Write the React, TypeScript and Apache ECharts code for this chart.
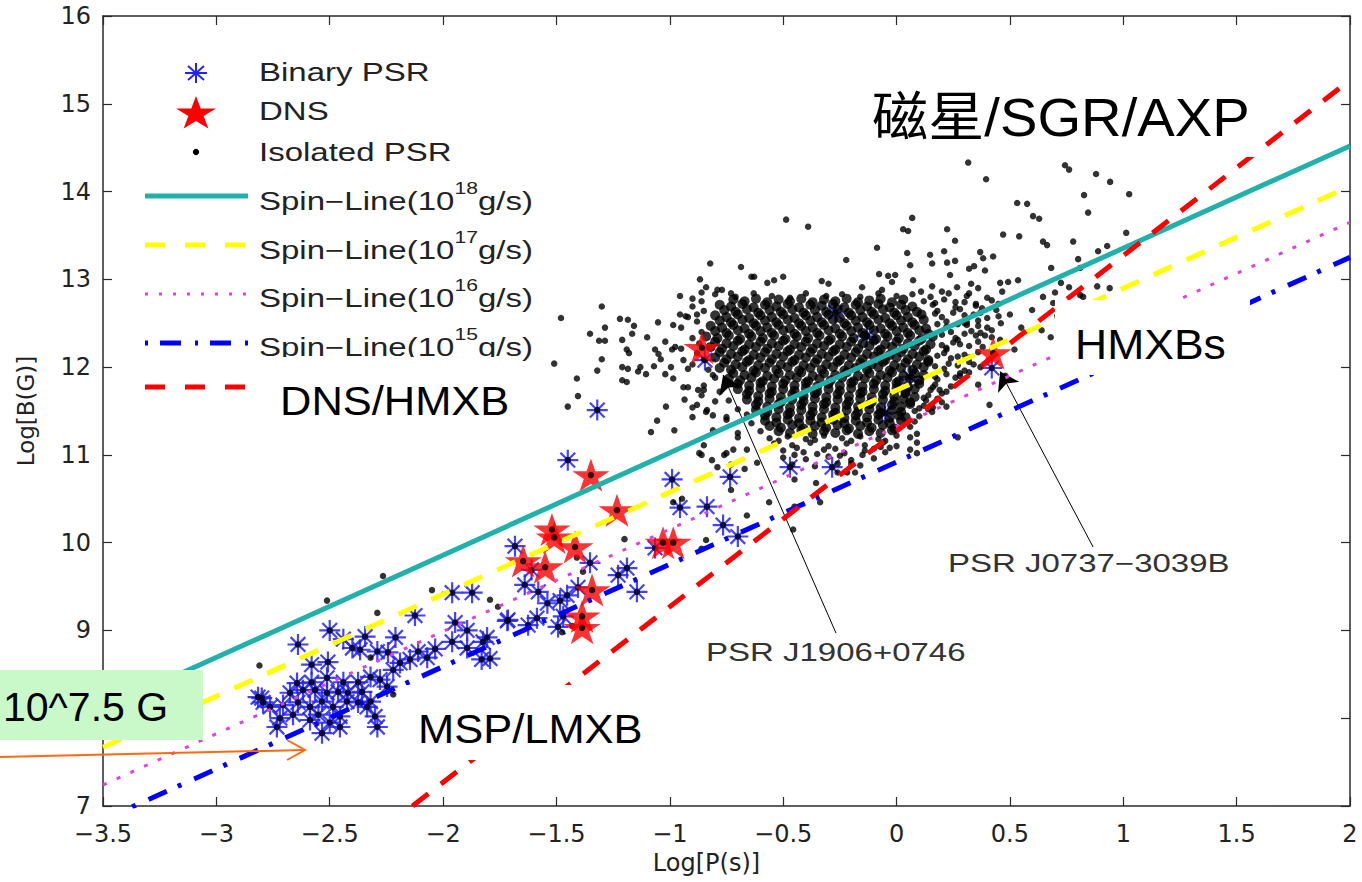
import React, { useEffect, useRef } from 'react';
import * as echarts from 'echarts';

// ---------- axes ----------
const X_MIN = -3.5;
const X_MAX = 2;
const X_STEP = 0.5;
const Y_MIN = 7;
const Y_MAX = 16;
const Y_STEP = 1;
// y tick hidden behind the green "10^7.5 G" note in the figure
const Y_HIDDEN_TICKS: number[] = [8];

// ---------- data: [log P(s), log B(G)] ----------
const binaryPSR: number[][] = [
  [-2.64, 8.84], [-2.5, 9.0], [-2.44, 8.9], [-2.4, 8.8], [-2.366, 8.78], [-2.344, 8.93], [-2.21, 8.92],
  [-2.124, 9.17], [-1.96, 9.43], [-1.872, 9.43], [-1.947, 9.09], [-1.894, 9.0], [-1.806, 8.92], [-1.717, 9.11],
  [-2.035, 8.79], [-2.11, 8.76], [-2.07, 8.69], [-1.83, 8.67], [-1.96, 8.87], [-1.894, 8.8], [-2.29, 8.76],
  [-2.243, 8.75], [-2.508, 8.64], [-2.58, 8.61], [-2.19, 8.63], [-2.146, 8.67], [-2.22, 8.55], [-2.644, 8.4],
  [-2.58, 8.41], [-2.512, 8.46], [-2.44, 8.41], [-2.375, 8.41], [-2.32, 8.47], [-2.278, 8.44], [-2.247, 8.36],
  [-2.358, 8.3], [-2.42, 8.29], [-2.463, 8.3], [-2.512, 8.29], [-2.565, 8.32], [-2.618, 8.32], [-2.675, 8.29],
  [-2.8, 8.23], [-2.763, 8.13], [-2.706, 8.15], [-2.64, 8.18], [-2.587, 8.13], [-2.534, 8.19], [-2.485, 8.13],
  [-2.424, 8.19], [-2.375, 8.18], [-2.32, 8.19], [-2.72, 8.0], [-2.662, 8.04], [-2.587, 7.98], [-2.55, 8.04],
  [-2.5, 7.95], [-2.455, 8.02], [-2.733, 7.9], [-2.534, 7.83], [-2.455, 7.9], [-2.3, 8.02], [-2.29, 7.9],
  [-2.335, 8.13], [-2.794, 8.18], [-2.816, 8.24], [-1.793, 8.68], [-1.824, 8.87],
  [-1.683, 9.96], [-1.352, 9.77], [-1.189, 9.71], [-1.228, 9.63], [-1.145, 9.44], [-1.64, 9.52], [-1.58, 9.44],
  [-1.54, 9.31], [-1.484, 9.34], [-1.453, 9.4], [-1.405, 9.49], [-1.714, 9.12], [-1.625, 9.06], [-1.586, 9.14],
  [-1.47, 9.16], [-1.493, 9.04], [-1.45, 10.94], [-1.32, 11.51], [-0.99, 10.72], [-0.734, 10.75], [-0.955, 10.4],
  [-0.836, 10.41], [-0.765, 10.2], [-0.7, 10.07], [-1.065, 9.94], [-1.61, 9.69],
  [-0.47, 10.86], [-0.284, 10.86], [0.42, 11.99], [-0.27, 12.62], [-0.13, 12.35], [0.06, 11.89], [-0.05, 11.48],
  [-0.845, 12.08],
];

const dnsPSR: number[][] = [
  [-1.348, 10.77], [-1.233, 10.37], [-1.52, 10.15], [-1.51, 10.06], [-1.418, 9.95], [-1.647, 9.79], [-1.55, 9.72],
  [-1.343, 9.46], [-1.387, 9.16], [-1.387, 9.03], [-1.03, 10.0], [-0.985, 10.0], [-0.858, 12.22], [0.426, 12.16],
];

const isolatedSparse: number[][] = [
  [-2.265, 9.62], [-2.512, 9.34], [-2.29, 9.2], [-2.049, 9.46], [-2.81, 8.6], [-2.32, 8.69], [-1.793, 9.35],
  [-1.758, 9.27], [-2.22, 8.27], [-1.45, 11.55], [-1.2, 10.04], [-0.73, 10.6], [-0.66, 10.31], [-0.84, 10.03],
  [-0.86, 9.93], [-0.985, 10.46], [-0.946, 10.5], [-1.41, 9.83], [-1.475, 8.98], [-1.383, 9.67], [-1.43, 9.05],
  [-0.456, 10.15], [-0.562, 10.46], [-0.45, 10.41], [-0.355, 10.68], [-0.337, 10.46], [-0.45, 10.72],
  [-0.218, 10.8], [-0.183, 10.8], [0.09, 11.24], [0.09, 11.14], [0.09, 11.02], [0.27, 11.2], [-0.07, 11.09],
  [-0.03, 11.08], [-0.2, 10.9], [-0.26, 10.8], [-0.87, 11.02], [-0.814, 10.94], [-0.75, 11.02], [-0.72, 11.06],
  [-1.48, 12.56], [-1.3, 12.69], [-1.352, 12.38], [-1.286, 12.45], [-1.312, 12.3], [-1.286, 12.3], [-1.51, 12.04],
  [-1.3, 12.09], [-1.32, 11.96], [-1.41, 11.87], [-1.405, 11.67], [-1.22, 12.55], [-1.185, 12.54], [-1.158, 12.47],
  [-1.166, 12.38], [-1.21, 12.31], [-1.19, 12.2], [-1.18, 12.16], [-1.21, 12.0], [-1.185, 11.98], [-1.21, 11.85],
  [-1.19, 11.83], [-1.13, 12.0], [-1.14, 11.95], [-1.052, 12.51], [-1.1, 12.34], [-1.065, 12.2], [-1.05, 12.15],
  [-1.04, 12.09], [-1.07, 12.01], [-1.105, 11.92], [-0.995, 12.0], [-1.02, 11.92], [-1.017, 11.55], [-1.056, 11.39],
  [-1.083, 11.26], [-0.98, 11.28], [-0.955, 12.81], [-0.955, 12.6], [-0.93, 12.58], [-0.985, 12.48], [-0.88, 12.6],
  [-1.02, 12.29], [-0.99, 12.2], [-0.976, 12.23], [-0.94, 12.08], [-0.92, 11.98], [-0.985, 11.87], [-0.94, 11.77],
  [-0.935, 11.63], [-0.9, 11.54], [-0.88, 11.57], [-0.9, 11.43], [-0.81, 11.45], [-0.84, 11.49], [-0.85, 11.74],
  [-0.86, 11.68], [-0.81, 11.91], [-0.85, 11.11], [-0.76, 11.0], [-0.86, 11.0], [-0.73, 10.89], [-0.67, 10.84],
  [-0.84, 12.91], [-0.77, 12.88], [-0.92, 11.77], [-0.875, 11.74], [-0.836, 11.51], [-0.81, 11.28], [-0.75, 11.4],
  [-0.7, 11.2], [-0.66, 11.06], [-0.615, 10.91], [-0.79, 10.86],
  [0.316, 14.33], [0.395, 14.14], [0.743, 14.3], [0.761, 14.25], [0.88, 14.2], [0.942, 14.11], [1.026, 13.97],
  [0.827, 13.96], [0.845, 13.76], [0.532, 13.87], [0.576, 13.86], [0.602, 13.72], [0.629, 13.69], [0.069, 13.7],
  [0.029, 13.57], [0.051, 13.55], [0.223, 13.57], [0.47, 13.51], [0.541, 13.49], [0.258, 13.44], [-0.086, 13.36],
  [0.646, 13.43], [0.664, 13.39], [0.779, 13.43], [1.013, 13.53], [0.929, 13.38], [0.889, 13.32], [0.801, 13.23],
  [0.682, 13.13], [0.81, 13.13], [0.885, 12.92], [0.823, 12.8], [0.761, 12.91], [0.699, 12.85], [0.691, 12.73],
  [0.708, 12.58], [0.598, 12.65], [0.646, 12.8], [0.536, 12.99], [0.492, 12.97], [0.466, 12.86], [-0.487, 13.68],
  [-0.39, 13.6], [-0.222, 13.22], [-0.822, 13.18], [-0.686, 13.14], [-0.867, 13.0], [-0.628, 13.03], [-0.5, 13.03],
  [0.047, 13.3], [0.148, 13.28], [0.21, 13.32], [0.06, 13.16], [0.157, 13.18], [0.223, 13.19], [0.258, 13.21],
  [0.369, 13.31], [0.382, 13.24], [0.426, 13.26], [0.32, 13.12], [0.342, 13.15], [0.39, 13.1], [-0.077, 13.06],
  [-0.037, 13.04], [-0.006, 13.05], [-0.02, 12.97], [0.073, 12.99], [0.236, 13.05], [0.157, 12.92], [0.267, 12.91],
  [0.329, 12.95], [0.36, 12.9], [-0.152, 12.91], [-0.064, 12.88], [0.108, 12.86], [0.2, 12.86], [-0.79, 12.88],
  [-0.73, 12.84], [-0.64, 13.03], [-0.57, 12.96], [-0.54, 12.99], [-0.33, 12.98], [-0.3, 12.95],
  [0.725, 12.96], [0.94, 12.9], [0.81, 12.82], [0.89, 12.71], [0.64, 12.42], [0.68, 12.34], [0.41, 11.57],
  [0.32, 12.84], [0.377, 12.67], [0.457, 12.96], [0.31, 12.51], [0.37, 12.39], [0.42, 12.42], [0.457, 12.31],
  [0.27, 12.31], [0.22, 12.2], [0.32, 12.06], [0.28, 11.93], [0.19, 11.74], [0.22, 11.55], [0.06, 11.06],
  [0.157, 11.49], [0.5, 12.6], [0.55, 12.45], [0.52, 12.2], [0.36, 11.8], [0.48, 11.9],
];

// medium-density rim of the main isolated-pulsar cloud
const isolatedFringe: number[][] = [
  [-0.80, 12.83], [-0.71, 12.80], [-0.63, 12.84], [-0.55, 12.81], [-0.47, 12.79], [-0.40, 12.84], [-0.31, 12.81],
  [-0.24, 12.83], [-0.16, 12.80], [-0.08, 12.84], [0.00, 12.81], [0.07, 12.83], [0.15, 12.80], [0.23, 12.84],
  [0.31, 12.81], [0.40, 12.79],
  [-0.86, 12.75], [0.12, 12.75], [0.21, 12.77], [0.30, 12.74], [0.42, 12.76],
  [-0.90, 12.69], [0.16, 12.71], [0.26, 12.68], [0.35, 12.72],
  [0.18, 12.64], [0.28, 12.66], [0.37, 12.62], [0.44, 12.65],
  [-0.92, 12.57], [0.20, 12.57], [0.30, 12.59], [0.40, 12.56],
  [0.22, 12.52], [0.30, 12.50], [0.36, 12.53],
  [-0.95, 12.45], [0.22, 12.46], [0.31, 12.48], [0.40, 12.45],
  [0.24, 12.40], [0.33, 12.41],
  [0.26, 12.33], [0.35, 12.36], [0.42, 12.34],
  [0.25, 12.28], [0.36, 12.29],
  [-0.95, 12.21], [0.22, 12.22], [0.32, 12.24],
  [0.21, 12.16], [0.30, 12.14], [0.36, 12.17],
  [0.24, 12.10], [0.32, 12.11],
  [-0.90, 12.03], [0.23, 12.04], [0.34, 12.03],
  [0.21, 11.98], [0.30, 11.96],
  [0.22, 11.92], [0.32, 11.94],
  [0.18, 11.86], [0.26, 11.88],
  [-0.85, 11.79], [0.17, 11.80], [0.24, 11.78],
  [0.15, 11.74], [0.22, 11.72],
  [0.14, 11.68], [0.20, 11.70],
  [-0.80, 11.61], [0.13, 11.62], [0.20, 11.60],
  [0.12, 11.56], [0.16, 11.54],
  [0.08, 11.50], [0.14, 11.52],
  [-0.75, 11.43], [0.10, 11.44],
  [0.08, 11.38],
  [0.06, 11.32],
  [-0.70, 11.25],
  [-0.56, 11.19], [-0.48, 11.21], [-0.40, 11.18], [-0.32, 11.22], [-0.24, 11.19], [-0.16, 11.21], [-0.08, 11.18],
  [0.00, 11.22], [0.06, 11.20],
  [-0.54, 11.13], [-0.46, 11.11], [-0.38, 11.14], [-0.30, 11.10], [-0.22, 11.13], [-0.14, 11.11], [-0.06, 11.14],
  [0.00, 11.10],
  [-0.50, 11.05], [-0.41, 11.03], [-0.32, 11.06], [-0.23, 11.02], [-0.14, 11.05], [-0.05, 11.03],
  [-0.50, 10.97], [-0.40, 10.95], [-0.30, 10.98], [-0.20, 10.94], [-0.10, 10.96],
  [-0.46, 10.89], [-0.36, 10.87], [-0.26, 10.90], [-0.16, 10.88],
  [0.17, 12.73], [0.26, 12.74], [0.35, 12.70], [0.45, 12.72], [0.17, 12.61], [0.25, 12.62], [0.34, 12.60],
  [0.45, 12.58], [0.18, 12.49], [0.27, 12.49], [0.36, 12.47], [0.46, 12.50], [0.20, 12.37], [0.30, 12.38],
  [0.39, 12.36], [0.20, 12.25], [0.28, 12.26], [0.38, 12.23], [0.18, 12.13], [0.27, 12.12], [0.17, 12.01],
  [0.27, 12.02], [0.37, 12.00], [0.17, 11.89], [0.28, 11.90], [0.16, 11.77], [0.12, 11.65], [0.18, 11.64],
  [0.10, 11.53],
  [-0.86, 12.85], [-0.90, 12.78], [-0.85, 12.64], [-0.88, 12.52], [-0.86, 12.40], [-0.90, 12.33], [-0.87, 12.27],
  [-0.88, 12.16], [-0.85, 12.09], [-0.83, 11.97], [-0.80, 11.88], [-0.78, 11.72], [-0.74, 11.62], [-0.70, 11.52],
  [-0.66, 11.46], [-0.64, 11.36], [-0.60, 11.27],
  [-0.52, 11.16], [-0.36, 11.17], [-0.20, 11.16], [-0.05, 11.16], [-0.44, 11.08], [-0.27, 11.07], [-0.10, 11.07],
  [-0.45, 11.00], [-0.35, 11.01], [-0.25, 10.99], [-0.15, 11.00],
];

// saturated centre of the cloud (overlapping dots in the figure)
const isolatedCore: number[][] = [
  [-0.72, 12.77], [-0.67, 12.75], [-0.62, 12.78], [-0.57, 12.74], [-0.52, 12.77], [-0.47, 12.75], [-0.42, 12.78],
  [-0.37, 12.74], [-0.32, 12.77], [-0.27, 12.75], [-0.22, 12.78], [-0.17, 12.74], [-0.12, 12.76], [-0.07, 12.78],
  [-0.02, 12.74], [0.03, 12.77],
  [-0.78, 12.71], [-0.73, 12.69], [-0.68, 12.72], [-0.63, 12.68], [-0.58, 12.71], [-0.53, 12.69], [-0.48, 12.72],
  [-0.43, 12.68], [-0.38, 12.71], [-0.33, 12.70], [-0.28, 12.72], [-0.23, 12.68], [-0.18, 12.71], [-0.13, 12.69],
  [-0.08, 12.72], [-0.03, 12.68], [0.02, 12.71], [0.07, 12.69],
  [-0.76, 12.65], [-0.71, 12.63], [-0.66, 12.66], [-0.61, 12.62], [-0.56, 12.65], [-0.51, 12.63], [-0.46, 12.66],
  [-0.41, 12.62], [-0.36, 12.65], [-0.31, 12.63], [-0.26, 12.66], [-0.21, 12.62], [-0.16, 12.65], [-0.11, 12.63],
  [-0.06, 12.66], [-0.01, 12.62], [0.04, 12.65], [0.09, 12.63],
  [-0.80, 12.59], [-0.75, 12.57], [-0.70, 12.60], [-0.65, 12.56], [-0.60, 12.59], [-0.55, 12.57], [-0.50, 12.60],
  [-0.45, 12.56], [-0.40, 12.59], [-0.35, 12.57], [-0.30, 12.60], [-0.25, 12.56], [-0.20, 12.59], [-0.15, 12.57],
  [-0.10, 12.60], [-0.05, 12.56], [0.00, 12.59], [0.05, 12.57], [0.11, 12.60],
  [-0.78, 12.53], [-0.73, 12.51], [-0.68, 12.54], [-0.63, 12.50], [-0.58, 12.53], [-0.53, 12.51], [-0.48, 12.54],
  [-0.43, 12.50], [-0.38, 12.53], [-0.33, 12.51], [-0.28, 12.54], [-0.23, 12.50], [-0.18, 12.53], [-0.13, 12.51],
  [-0.08, 12.54], [-0.03, 12.50], [0.02, 12.53], [0.07, 12.51], [0.12, 12.54],
  [-0.82, 12.47], [-0.77, 12.45], [-0.72, 12.48], [-0.67, 12.44], [-0.62, 12.47], [-0.57, 12.45], [-0.52, 12.48],
  [-0.47, 12.44], [-0.42, 12.47], [-0.37, 12.45], [-0.32, 12.48], [-0.27, 12.44], [-0.22, 12.47], [-0.17, 12.45],
  [-0.12, 12.48], [-0.07, 12.44], [-0.02, 12.47], [0.03, 12.45], [0.08, 12.48], [0.13, 12.44],
  [-0.80, 12.41], [-0.75, 12.39], [-0.70, 12.42], [-0.65, 12.38], [-0.60, 12.41], [-0.55, 12.39], [-0.50, 12.42],
  [-0.45, 12.38], [-0.40, 12.41], [-0.35, 12.39], [-0.30, 12.42], [-0.25, 12.38], [-0.20, 12.41], [-0.15, 12.39],
  [-0.10, 12.42], [-0.05, 12.38], [0.00, 12.41], [0.05, 12.39], [0.10, 12.42], [0.14, 12.38],
  [-0.84, 12.35], [-0.79, 12.33], [-0.74, 12.36], [-0.69, 12.32], [-0.64, 12.35], [-0.59, 12.33], [-0.54, 12.36],
  [-0.49, 12.32], [-0.44, 12.35], [-0.39, 12.33], [-0.34, 12.36], [-0.29, 12.32], [-0.24, 12.35], [-0.19, 12.33],
  [-0.14, 12.36], [-0.09, 12.32], [-0.04, 12.35], [0.01, 12.33], [0.06, 12.36], [0.11, 12.32], [0.16, 12.35],
  [-0.80, 12.29], [-0.75, 12.27], [-0.70, 12.30], [-0.65, 12.26], [-0.60, 12.29], [-0.55, 12.27], [-0.50, 12.30],
  [-0.45, 12.26], [-0.40, 12.29], [-0.35, 12.27], [-0.30, 12.30], [-0.25, 12.26], [-0.20, 12.29], [-0.15, 12.27],
  [-0.10, 12.30], [-0.05, 12.26], [0.00, 12.29], [0.05, 12.27], [0.10, 12.30], [0.15, 12.26],
  [-0.82, 12.23], [-0.77, 12.21], [-0.72, 12.24], [-0.67, 12.20], [-0.62, 12.23], [-0.57, 12.21], [-0.52, 12.24],
  [-0.47, 12.20], [-0.42, 12.23], [-0.37, 12.21], [-0.32, 12.24], [-0.27, 12.20], [-0.22, 12.23], [-0.17, 12.21],
  [-0.12, 12.24], [-0.07, 12.20], [-0.02, 12.23], [0.03, 12.21], [0.08, 12.24], [0.13, 12.20],
  [-0.78, 12.17], [-0.73, 12.15], [-0.68, 12.18], [-0.63, 12.14], [-0.58, 12.17], [-0.53, 12.15], [-0.48, 12.18],
  [-0.43, 12.14], [-0.38, 12.17], [-0.33, 12.15], [-0.28, 12.18], [-0.23, 12.14], [-0.18, 12.17], [-0.13, 12.15],
  [-0.08, 12.18], [-0.03, 12.14], [0.02, 12.17], [0.07, 12.15], [0.12, 12.18],
  [-0.80, 12.11], [-0.75, 12.09], [-0.70, 12.12], [-0.65, 12.08], [-0.60, 12.11], [-0.55, 12.09], [-0.50, 12.12],
  [-0.45, 12.08], [-0.40, 12.11], [-0.35, 12.09], [-0.30, 12.12], [-0.25, 12.08], [-0.20, 12.11], [-0.15, 12.09],
  [-0.10, 12.12], [-0.05, 12.08], [0.00, 12.11], [0.05, 12.09], [0.10, 12.12], [0.14, 12.08],
  [-0.76, 12.05], [-0.71, 12.03], [-0.66, 12.06], [-0.61, 12.02], [-0.56, 12.05], [-0.51, 12.03], [-0.46, 12.06],
  [-0.41, 12.02], [-0.36, 12.05], [-0.31, 12.03], [-0.26, 12.06], [-0.21, 12.02], [-0.16, 12.05], [-0.11, 12.03],
  [-0.06, 12.06], [-0.01, 12.02], [0.04, 12.05], [0.09, 12.03], [0.14, 12.06],
  [-0.78, 11.99], [-0.73, 11.97], [-0.68, 12.00], [-0.63, 11.96], [-0.58, 11.99], [-0.53, 11.97], [-0.48, 12.00],
  [-0.43, 11.96], [-0.38, 11.99], [-0.33, 11.97], [-0.28, 12.00], [-0.23, 11.96], [-0.18, 11.99], [-0.13, 11.97],
  [-0.08, 12.00], [-0.03, 11.96], [0.02, 11.99], [0.07, 11.97], [0.12, 12.00],
  [-0.72, 11.93], [-0.67, 11.91], [-0.62, 11.94], [-0.57, 11.90], [-0.52, 11.93], [-0.47, 11.91], [-0.42, 11.94],
  [-0.37, 11.90], [-0.32, 11.93], [-0.27, 11.91], [-0.22, 11.94], [-0.17, 11.90], [-0.12, 11.93], [-0.07, 11.91],
  [-0.02, 11.94], [0.03, 11.90], [0.08, 11.93], [0.12, 11.91],
  [-0.74, 11.87], [-0.69, 11.85], [-0.64, 11.88], [-0.59, 11.84], [-0.54, 11.87], [-0.49, 11.85], [-0.44, 11.88],
  [-0.39, 11.84], [-0.34, 11.87], [-0.29, 11.85], [-0.24, 11.88], [-0.19, 11.84], [-0.14, 11.87], [-0.09, 11.85],
  [-0.04, 11.88], [0.01, 11.84], [0.06, 11.87], [0.10, 11.85],
  [-0.70, 11.81], [-0.65, 11.79], [-0.60, 11.82], [-0.55, 11.78], [-0.50, 11.81], [-0.45, 11.79], [-0.40, 11.82],
  [-0.35, 11.78], [-0.30, 11.81], [-0.25, 11.79], [-0.20, 11.82], [-0.15, 11.78], [-0.10, 11.81], [-0.05, 11.79],
  [0.00, 11.82], [0.05, 11.78], [0.10, 11.81],
  [-0.70, 11.75], [-0.65, 11.73], [-0.60, 11.76], [-0.55, 11.72], [-0.50, 11.75], [-0.45, 11.73], [-0.40, 11.76],
  [-0.35, 11.72], [-0.30, 11.75], [-0.25, 11.73], [-0.20, 11.76], [-0.15, 11.72], [-0.10, 11.75], [-0.05, 11.73],
  [0.00, 11.76], [0.04, 11.72], [0.08, 11.75],
  [-0.66, 11.69], [-0.61, 11.67], [-0.56, 11.70], [-0.51, 11.66], [-0.46, 11.69], [-0.41, 11.67], [-0.36, 11.70],
  [-0.31, 11.66], [-0.26, 11.69], [-0.21, 11.67], [-0.16, 11.70], [-0.11, 11.66], [-0.06, 11.69], [-0.01, 11.67],
  [0.04, 11.70], [0.08, 11.66],
  [-0.66, 11.63], [-0.61, 11.61], [-0.56, 11.64], [-0.51, 11.60], [-0.46, 11.63], [-0.41, 11.61], [-0.36, 11.64],
  [-0.31, 11.60], [-0.26, 11.63], [-0.21, 11.61], [-0.16, 11.64], [-0.11, 11.60], [-0.06, 11.63], [-0.01, 11.61],
  [0.03, 11.64], [0.06, 11.60],
  [-0.62, 11.57], [-0.57, 11.55], [-0.52, 11.58], [-0.47, 11.54], [-0.42, 11.57], [-0.37, 11.55], [-0.32, 11.58],
  [-0.27, 11.54], [-0.22, 11.57], [-0.17, 11.55], [-0.12, 11.58], [-0.07, 11.54], [-0.02, 11.57], [0.02, 11.55],
  [0.06, 11.58],
  [-0.62, 11.51], [-0.57, 11.49], [-0.52, 11.52], [-0.47, 11.48], [-0.42, 11.51], [-0.37, 11.49], [-0.32, 11.52],
  [-0.27, 11.48], [-0.22, 11.51], [-0.17, 11.49], [-0.12, 11.52], [-0.07, 11.48], [-0.02, 11.51], [0.02, 11.49],
  [-0.58, 11.45], [-0.53, 11.43], [-0.48, 11.46], [-0.43, 11.42], [-0.38, 11.45], [-0.33, 11.43], [-0.28, 11.46],
  [-0.23, 11.42], [-0.18, 11.45], [-0.13, 11.43], [-0.08, 11.46], [-0.03, 11.42], [0.01, 11.45], [0.04, 11.43],
  [-0.58, 11.39], [-0.53, 11.37], [-0.48, 11.40], [-0.43, 11.36], [-0.38, 11.39], [-0.33, 11.37], [-0.28, 11.40],
  [-0.23, 11.36], [-0.18, 11.39], [-0.13, 11.37], [-0.08, 11.40], [-0.03, 11.36], [0.02, 11.39],
  [-0.56, 11.33], [-0.51, 11.31], [-0.46, 11.34], [-0.41, 11.30], [-0.36, 11.33], [-0.31, 11.31], [-0.26, 11.34],
  [-0.21, 11.30], [-0.16, 11.33], [-0.11, 11.31], [-0.06, 11.34], [-0.01, 11.30],
  [-0.52, 11.27], [-0.47, 11.25], [-0.42, 11.28], [-0.37, 11.24], [-0.32, 11.27], [-0.27, 11.25], [-0.22, 11.28],
  [-0.17, 11.24], [-0.12, 11.27], [-0.07, 11.25], [-0.02, 11.28],
];

// straight reference lines, end points
const spinLine18: number[][] = [[-3.5, 8.11], [2, 14.52]];
const spinLine17: number[][] = [[-3.5, 7.67], [2, 14.06]];
const spinLine16: number[][] = [[-3.5, 7.24], [2, 13.65]];
const spinLine15: number[][] = [[-3.5, 6.84], [2, 13.25]];
const dnsHmxbLine: number[][] = [[-2.135, 7.0], [2, 15.27]];

// annotation pointers: [label end, tip]
const pointerJ1906: number[][] = [[-0.267, 8.97], [-0.765, 11.91]];
const pointerJ0737: number[][] = [[0.867, 9.95], [0.457, 11.95]];

// ---------- styling ----------
const SANS = '"Liberation Sans", Arial, "Noto Sans CJK SC", sans-serif';
const TICK_FONT = '"DejaVu Sans", sans-serif';
const STRETCH = 1.32;
const CYAN = '#20b2aa';
const YELLOW = '#ffff00';
const MAGENTA = '#e040e0';
const BLUE = '#0000ff';
const RED = '#ff0000';
const AST_BLUE = '#2222ff';

const STAR =
  'path://M50,2L60.76,35.19L95.65,35.17L67.41,55.66L78.21,88.83L50,68.3L21.79,88.83L32.59,55.66L4.35,35.17L39.24,35.19Z';
const ASTERISK = 'path://M10,0L10,20M0,10L20,10M3,3L17,17M3,17L17,3';

function starPoints(cx: number, cy: number, rx: number, ry: number): number[][] {
  const pts: number[][] = [];
  for (let i = 0; i < 10; i++) {
    const a = -Math.PI / 2 + (i * Math.PI) / 5;
    const k = i % 2 === 0 ? 1 : 0.382;
    pts.push([cx + rx * k * Math.cos(a), cy + ry * k * Math.sin(a)]);
  }
  return pts;
}

function minusFmt(v: number): string {
  return v < 0 ? '\u2212' + String(-v) : String(v);
}

function lineSeries(name: string, data: number[][], color: string, width: number, type: any, extra: any = {}) {
  return {
    name,
    type: 'line',
    data,
    showSymbol: false,
    symbol: 'none',
    clip: true,
    z: 6,
    silent: true,
    lineStyle: { color, width, type, cap: 'butt' },
    ...extra,
  };
}

function dotSeries(name: string, data: number[][], size: number, z: number) {
  return {
    name,
    type: 'scatter',
    data,
    symbol: 'circle',
    symbolSize: size,
    z,
    silent: true,
    progressive: 0,
    itemStyle: { color: '#000' },
  };
}

function legendText(y: number, text: string) {
  return {
    type: 'text',
    x: 259,
    y,
    z: 110,
    scaleX: STRETCH,
    style: {
      text,
      fontFamily: SANS,
      fontSize: 25,
      fill: '#222',
      align: 'left',
      verticalAlign: 'middle',
      lineHeight: 42,
      rich: {
        sup: { fontSize: 16, fontFamily: SANS, fill: '#222', verticalAlign: 'top', lineHeight: 16 },
      },
    },
  };
}

function legendLine(y: number, color: string, width: number, dash: number[] | null) {
  return {
    type: 'line',
    z: 110,
    shape: { x1: 145, y1: y, x2: 248, y2: y },
    style: { stroke: color, lineWidth: width, lineDash: dash || undefined, lineCap: 'butt' },
  };
}

function bigLabel(x: number, y: number, text: string, size: number) {
  return {
    type: 'text',
    x,
    y,
    z: 130,
    scaleX: 1.06,
    style: { text, fontFamily: SANS, fontSize: size, fill: '#000', align: 'left', verticalAlign: 'middle' },
  };
}

function whiteBox(x: number, y: number, w: number, h: number) {
  return { type: 'rect', z: 120, shape: { x, y, width: w, height: h }, style: { fill: '#fff' } };
}

export default function App() {
  const ref = useRef<HTMLDivElement>(null);

  useEffect(() => {
    if (!ref.current) return;
    const chart = echarts.init(ref.current, undefined, { renderer: 'svg' });

    const axisLineStyle = { color: '#2a2a2a', width: 1.5 };
    const tickStyle = { color: '#2a2a2a', width: 1.2 };

    const option: any = {
      animation: false,
      backgroundColor: '#ffffff',
      grid: { left: 103, right: 12, top: 16, bottom: 76, containLabel: false },
      xAxis: [
        {
          type: 'value',
          min: X_MIN,
          max: X_MAX,
          interval: X_STEP,
          position: 'bottom',
          name: 'Log[P(s)]',
          nameLocation: 'middle',
          nameGap: 41,
          nameTextStyle: { fontFamily: TICK_FONT, fontSize: 24, color: '#222', padding: [0, 40, 0, 0] },
          axisLine: { show: true, onZero: false, lineStyle: axisLineStyle },
          axisTick: { show: true, inside: true, length: 9, lineStyle: tickStyle },
          axisLabel: {
            margin: 16,
            fontFamily: TICK_FONT,
            fontSize: 24,
            lineHeight: 24,
            color: '#222',
            showMinLabel: true,
            showMaxLabel: true,
            formatter: minusFmt,
          },
          splitLine: { show: false },
        },
        {
          type: 'value',
          min: X_MIN,
          max: X_MAX,
          interval: X_STEP,
          position: 'top',
          axisLine: { show: true, onZero: false, lineStyle: axisLineStyle },
          axisTick: { show: true, inside: true, length: 9, lineStyle: tickStyle },
          axisLabel: { show: false },
          splitLine: { show: false },
        },
      ],
      yAxis: [
        {
          type: 'value',
          min: Y_MIN,
          max: Y_MAX,
          interval: Y_STEP,
          position: 'left',
          name: 'Log[B(G)]',
          nameLocation: 'middle',
          nameGap: 66,
          nameRotate: 90,
          nameTextStyle: { fontFamily: TICK_FONT, fontSize: 23, color: '#222' },
          axisLine: { show: true, onZero: false, lineStyle: axisLineStyle },
          axisTick: { show: true, inside: true, length: 9, lineStyle: tickStyle },
          axisLabel: {
            margin: 12,
            fontFamily: TICK_FONT,
            fontSize: 24,
            lineHeight: 22,
            color: '#222',
            showMinLabel: true,
            showMaxLabel: true,
            formatter: (v: number) => (Y_HIDDEN_TICKS.includes(v) ? '' : String(v)),
          },
          splitLine: { show: false },
        },
        {
          type: 'value',
          min: Y_MIN,
          max: Y_MAX,
          interval: Y_STEP,
          position: 'right',
          axisLine: { show: true, onZero: false, lineStyle: axisLineStyle },
          axisTick: { show: true, inside: true, length: 9, lineStyle: tickStyle },
          axisLabel: { show: false },
          splitLine: { show: false },
        },
      ],
      series: [
        {
          name: 'Binary PSR',
          type: 'scatter',
          data: binaryPSR,
          symbol: ASTERISK,
          symbolSize: 21,
          z: 2,
          silent: true,
          progressive: 0,
          itemStyle: { color: 'rgba(0,0,0,0)', borderColor: AST_BLUE, borderWidth: 2.2, opacity: 0.85 },
        },
        dotSeries('Isolated PSR', isolatedSparse, 6.5, 3),
        dotSeries('Isolated PSR (rim)', isolatedFringe, 6.5, 3),
        dotSeries('Isolated PSR (centre)', isolatedCore, 10, 3),
        dotSeries('Binary PSR (pulsar)', binaryPSR, 6.5, 3),
        {
          name: 'DNS',
          type: 'scatter',
          data: dnsPSR,
          symbol: STAR,
          symbolSize: [37, 33],
          z: 4,
          silent: true,
          itemStyle: { color: RED, borderWidth: 0 },
        },
        dotSeries('DNS (pulsar)', dnsPSR, 6.5, 5),
        lineSeries('Spin-Line(10^18g/s)', spinLine18, CYAN, 5, 'solid', {
          markLine: {
            silent: true,
            animation: false,
            symbol: ['none', 'arrow'],
            symbolSize: 18,
            lineStyle: { color: '#000', width: 1, type: 'solid' },
            label: { show: false },
            data: [
              [{ coord: pointerJ1906[0] }, { coord: pointerJ1906[1] }],
              [{ coord: pointerJ0737[0] }, { coord: pointerJ0737[1] }],
            ],
          },
        }),
        lineSeries('Spin-Line(10^17g/s)', spinLine17, YELLOW, 5, [20, 16]),
        lineSeries('Spin-Line(10^16g/s)', spinLine16, MAGENTA, 3, [4, 11]),
        lineSeries('Spin-Line(10^15g/s)', spinLine15, BLUE, 5, [20, 12, 4, 14]),
        lineSeries('DNS/HMXB', dnsHmxbLine, RED, 5, [20, 16]),
      ],
      graphic: [
        // legend
        ...[
          { type: 'line', shape: { x1: 185, y1: 73, x2: 207, y2: 73 } },
          { type: 'line', shape: { x1: 196, y1: 63, x2: 196, y2: 83 } },
          { type: 'line', shape: { x1: 188, y1: 66, x2: 204, y2: 80 } },
          { type: 'line', shape: { x1: 188, y1: 80, x2: 204, y2: 66 } },
        ].map((el) => ({ ...el, z: 110, style: { stroke: AST_BLUE, lineWidth: 2 } })),
        { type: 'polygon', z: 110, shape: { points: starPoints(196, 114, 21, 18) }, style: { fill: RED } },
        { type: 'circle', z: 110, shape: { cx: 196, cy: 152, r: 3.2 }, style: { fill: '#000' } },
        legendLine(196, CYAN, 5, null),
        legendLine(245, YELLOW, 5, [20, 20]),
        legendLine(294, MAGENTA, 3, [3, 11]),
        legendLine(343, BLUE, 5, [3, 12, 21, 14]),
        legendLine(387, RED, 5, [20, 20]),
        legendText(72, 'Binary PSR'),
        legendText(111, 'DNS'),
        legendText(152, 'Isolated PSR'),
        legendText(201, 'Spin\u2212Line(10{sup|18}g/s)'),
        legendText(250, 'Spin\u2212Line(10{sup|17}g/s)'),
        legendText(298, 'Spin\u2212Line(10{sup|16}g/s)'),
        legendText(347, 'Spin\u2212Line(10{sup|15}g/s)'),
        // PSR labels
        {
          type: 'text', x: 706, y: 652, z: 110, scaleX: STRETCH,
          style: { text: 'PSR J1906+0746', fontFamily: SANS, fontSize: 25, fill: '#333', verticalAlign: 'middle' },
        },
        {
          type: 'text', x: 948, y: 563, z: 110, scaleX: STRETCH,
          style: { text: 'PSR J0737\u22123039B', fontFamily: SANS, fontSize: 25, fill: '#333', verticalAlign: 'middle' },
        },
        // white label boxes
        whiteBox(860, 85, 402, 72),
        whiteBox(1055, 300, 195, 75),
        whiteBox(259, 357, 262, 73),
        whiteBox(402, 685, 250, 75),
        bigLabel(872, 118, '磁星/SGR/AXP', 53),
        bigLabel(1075, 344, 'HMXBs', 42),
        bigLabel(280, 401, 'DNS/HMXB', 41),
        bigLabel(418, 729, 'MSP/LMXB', 41),
        // green 10^7.5 G box and orange arrow
        { type: 'rect', z: 140, shape: { x: 0, y: 670, width: 203, height: 70 }, style: { fill: '#c9f9c9' } },
        {
          type: 'text', x: 3, y: 707, z: 141,
          style: { text: '10^7.5 G', fontFamily: SANS, fontSize: 41, fill: '#000', verticalAlign: 'middle' },
        },
        {
          type: 'line', z: 142, shape: { x1: 0, y1: 757, x2: 304, y2: 750 },
          style: { stroke: '#ff6a10', lineWidth: 2 },
        },
        {
          type: 'polyline', z: 142, shape: { points: [[287, 740], [305, 750], [287, 760]] },
          style: { stroke: '#ff6a10', lineWidth: 2, fill: 'none' },
        },
      ],
    };

    chart.setOption(option);
    return () => chart.dispose();
  }, []);

  return <div ref={ref} style={{ position: 'absolute', left: 0, top: 0, width: 1362, height: 882 }} />;
}
